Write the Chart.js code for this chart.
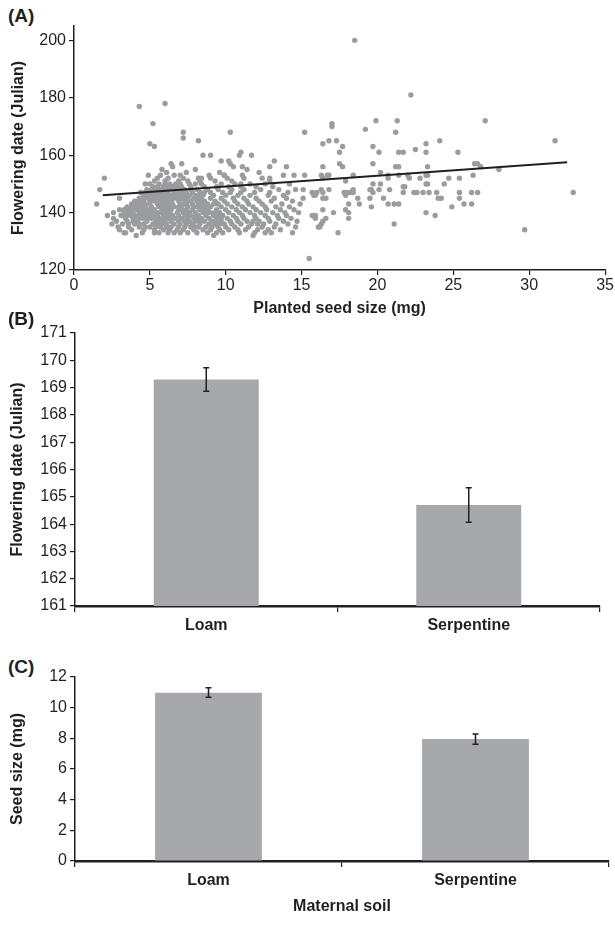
<!DOCTYPE html>
<html>
<head>
<title>Seed size and flowering date</title>
<script src="https://cdn.jsdelivr.net/npm/chart.js"></script>
<style>
body { margin: 0; background: #fff; }
#page { position: relative; width: 615px; height: 932px; font-family: "Liberation Sans", Arial, sans-serif; }
canvas { position: absolute; left: 0; }
.tag { position: absolute; left: 8px; font-weight: bold; font-size: 19px; color: #231f20; line-height: 20px; }
</style>
</head>
<body>
<div id="page">
  <div class="tag" style="top:6px">(A)</div>
  <canvas id="chartA" width="615" height="318" style="top:0"></canvas>
  <div class="tag" style="top:309px">(B)</div>
  <canvas id="chartB" width="615" height="325" style="top:315px"></canvas>
  <div class="tag" style="top:657px">(C)</div>
  <canvas id="chartC" width="615" height="292" style="top:640px"></canvas>
</div>
<script>
// (A) planted seed size (mg) vs flowering date (Julian day)
// dense part of the cloud, one row per flowering day: seed sizes
const rowDays = [132, 133, 134, 135, 136, 137, 138, 139, 140, 141, 142, 143, 144, 145, 146, 147, 148, 149, 150, 151, 152, 153, 154, 155, 156, 157, 158, 160];
const rowSizes = [
  [4.1, 9.2, 11.8],
  [3.3, 3.4, 4.5, 5.3, 5.6, 6.2, 6.6, 7.0, 7.5, 8.1, 8.8, 9.4, 9.8, 10.9, 11.9, 12.6, 13.0, 14.4],
  [3.0, 3.8, 4.6, 5.3, 5.9, 6.3, 6.8, 7.2, 7.9, 8.5, 9.0, 9.6, 10.2, 10.8, 11.3, 12.1, 12.8, 13.6],
  [2.9, 3.6, 4.3, 4.7, 5.0, 5.4, 5.7, 6.1, 6.4, 6.9, 7.3, 7.7, 8.0, 8.2, 8.7, 9.1, 9.5, 10.0, 10.6, 11.5, 12.4, 13.2, 14.6],
  [2.5, 3.2, 3.6, 4.0, 4.3, 4.6, 5.2, 5.5, 5.8, 6.1, 6.6, 7.0, 7.4, 7.8, 8.3, 8.9, 9.3, 9.6, 9.9, 10.4, 11.0, 11.7, 12.1, 12.5, 13.3, 14.1],
  [2.8, 3.5, 3.9, 4.2, 4.8, 5.4, 5.7, 6.0, 6.4, 6.9, 7.3, 7.6, 8.0, 8.3, 8.6, 9.1, 9.4, 9.7, 10.3, 10.8, 11.4, 11.8, 12.2, 12.9, 13.8, 14.7],
  [2.6, 3.4, 3.9, 4.2, 4.5, 4.8, 5.1, 5.4, 5.6, 5.9, 6.2, 6.5, 6.7, 7.1, 7.5, 7.9, 8.1, 8.4, 8.9, 9.4, 9.7, 10.1, 10.7, 11.2, 12.0, 12.8, 13.5, 14.3],
  [2.2, 3.1, 3.4, 3.7, 4.0, 4.3, 4.6, 4.9, 5.2, 5.5, 5.9, 6.2, 6.5, 6.9, 7.3, 7.5, 7.7, 8.0, 8.2, 8.7, 9.2, 9.5, 9.8, 10.5, 11.1, 11.9, 12.6, 13.4, 14.0],
  [2.6, 3.3, 3.6, 3.9, 4.3, 4.6, 4.9, 5.2, 5.5, 5.7, 6.0, 6.3, 6.8, 7.2, 7.4, 7.6, 8.0, 8.5, 8.8, 9.0, 9.3, 9.6, 10.2, 10.9, 11.6, 12.3, 13.1, 13.9, 14.8],
  [3.0, 3.3, 3.6, 3.9, 4.2, 4.5, 4.8, 5.0, 5.3, 5.8, 6.1, 6.4, 6.9, 7.1, 7.4, 7.8, 8.3, 8.6, 8.8, 9.4, 10.0, 10.7, 11.3, 12.0, 12.7, 13.6, 14.5],
  [3.5, 3.8, 4.1, 4.4, 4.7, 5.1, 5.6, 5.8, 6.1, 6.3, 6.6, 6.9, 7.1, 7.5, 7.9, 8.1, 8.4, 8.7, 9.0, 9.7, 10.4, 11.1, 11.8, 12.6, 13.3, 14.2],
  [1.5, 3.8, 4.1, 4.4, 4.7, 5.0, 5.5, 5.8, 6.0, 6.3, 6.5, 7.0, 7.2, 7.4, 7.8, 8.2, 8.5, 8.8, 9.2, 9.5, 10.1, 10.8, 11.5, 12.4, 13.7, 14.9],
  [4.0, 4.3, 4.6, 5.0, 5.3, 5.6, 5.9, 6.1, 6.4, 6.9, 7.3, 7.5, 7.7, 8.1, 8.4, 8.6, 9.3, 9.9, 10.6, 11.4, 12.2, 13.0, 14.4],
  [3.0, 4.3, 4.6, 4.9, 5.2, 5.5, 5.8, 6.1, 6.4, 6.6, 6.9, 7.1, 7.3, 7.5, 7.9, 8.2, 8.4, 9.0, 9.7, 10.5, 11.2, 12.0, 13.2, 14.0],
  [4.6, 4.9, 5.2, 5.5, 5.8, 6.1, 6.3, 6.5, 6.8, 7.0, 7.2, 7.4, 7.6, 8.0, 8.2, 8.5, 9.2, 10.0, 10.8, 11.6, 12.8, 13.8],
  [4.4, 4.7, 5.0, 5.3, 5.6, 5.9, 6.2, 6.6, 6.9, 7.1, 7.4, 7.8, 8.3, 8.6, 9.0, 9.8, 10.3, 11.0, 11.9, 12.9, 14.1],
  [1.7, 4.8, 5.1, 5.4, 5.7, 6.0, 6.3, 6.7, 7.0, 7.3, 7.7, 8.1, 8.8, 9.5, 10.4, 11.2, 12.3, 13.5, 14.6],
  [5.2, 5.5, 5.9, 6.2, 6.5, 6.8, 7.1, 7.7, 8.6, 9.4, 10.2, 11.0, 12.0, 13.1],
  [4.7, 5.0, 5.6, 6.0, 6.3, 6.7, 7.0, 7.6, 8.0, 8.4, 9.7, 10.6, 11.0, 11.6, 12.6, 14.2],
  [5.3, 6.0, 6.9, 7.5, 8.3, 9.3, 10.4, 12.9],
  [2.0, 5.5, 6.2, 7.2, 8.2, 8.4, 9.0, 10.1, 11.2, 12.4, 12.9],
  [4.9, 5.7, 6.6, 7.0, 8.9, 9.9, 11.1, 13.8, 14.5],
  [6.1, 7.4, 9.6, 12.2],
  [5.8, 8.0, 11.4],
  [6.5, 10.5, 11.1, 12.9, 14.0],
  [6.4, 7.1, 10.3],
  [9.7, 10.2, 13.2],
  [8.5, 9.0, 10.9, 11.7]
];
// sparse points: outliers and the larger seeds
const sparsePoints = [
  [4.3, 177], [6.0, 178], [5.2, 171], [5.0, 164], [5.3, 163], [7.2, 168], [7.2, 166], [8.2, 165], [9.9, 153], [10.3, 168], [11.0, 161],
  [15.2, 168], [15.1, 148], [15.1, 145], [15.2, 153], [15.5, 124], [15.7, 147], [15.8, 146], [15.9, 146], [16.0, 147],
  [15.9, 138], [15.9, 139], [15.7, 139], [16.1, 135], [16.2, 135], [16.3, 136], [16.4, 137], [16.6, 138], [16.3, 148],
  [16.4, 147], [16.3, 153], [16.4, 152], [16.4, 156], [16.4, 164], [16.4, 141], [16.6, 145], [16.4, 145], [16.8, 148],
  [16.8, 153], [16.7, 153], [16.8, 165], [17.0, 170], [17.0, 171], [17.1, 140], [17.4, 133], [17.3, 165], [17.5, 157],
  [17.7, 156], [17.5, 161], [17.7, 163], [17.8, 147], [17.9, 151], [17.9, 146], [18.0, 147], [18.2, 147], [18.4, 147],
  [18.4, 148], [17.9, 141], [18.1, 143], [18.1, 140], [18.1, 138], [18.4, 153], [18.7, 145], [18.8, 143], [19.2, 169],
  [19.6, 142], [19.5, 145], [19.7, 147], [19.6, 148], [19.5, 148], [19.7, 150], [19.7, 157], [19.7, 163], [19.9, 172],
  [20.1, 161], [20.1, 148], [20.2, 150], [20.2, 154], [20.4, 145], [20.7, 143], [20.7, 152], [20.7, 153], [20.8, 148],
  [21.1, 136], [21.1, 143], [21.4, 143], [21.2, 168], [21.3, 172], [21.2, 156], [21.4, 156], [21.4, 153], [21.4, 161],
  [21.7, 161], [21.7, 147], [21.7, 149], [21.8, 149], [22.0, 153], [22.1, 152], [22.5, 162], [22.4, 147], [22.6, 147],
  [22.8, 152], [23.0, 147], [23.2, 140], [23.2, 164], [23.2, 161], [23.2, 153], [23.3, 153], [23.2, 150], [23.3, 150],
  [23.3, 156], [23.4, 147], [23.8, 139], [23.9, 147], [24.0, 145], [24.2, 145], [24.1, 165], [24.4, 150], [24.7, 152],
  [24.9, 142], [25.3, 161], [25.4, 152], [25.4, 145], [25.4, 147], [25.7, 143], [26.2, 143], [26.2, 147], [26.6, 147],
  [26.3, 153], [26.4, 157], [26.6, 157], [26.8, 156], [27.1, 172], [28.0, 155], [29.7, 134], [31.7, 165], [32.9, 147],
  [18.5, 200], [22.2, 181]
];
const trendLine = [[1.9, 146.0], [32.5, 157.5]];
const xTicksA = [0, 5, 10, 15, 20, 25, 30, 35];
const yTicksA = [120, 140, 160, 180, 200];

// (B) and (C) means with error bars, by maternal soil
const soils = ['Loam', 'Serpentine'];
const flowerMean = [169.3, 164.7];
const flowerLow = [168.87, 164.07];
const flowerHigh = [169.73, 165.33];
const seedMean = [10.98, 7.96];
const seedLow = [10.68, 7.62];
const seedHigh = [11.30, 8.28];

const ink = '#231f20';
const dotGrey = '#9b9c9f';
const barGrey = '#a7a8ab';
const tickFont = { family: '"Liberation Sans", Arial, sans-serif', size: 16 };
const boldFont = { family: '"Liberation Sans", Arial, sans-serif', size: 16, weight: 'bold' };

const scatterData = [];
rowDays.forEach((d, i) => rowSizes[i].forEach(s => scatterData.push({ x: s, y: d })));
sparsePoints.forEach(p => scatterData.push({ x: p[0], y: p[1] }));

function axisGrid() {
  return { drawOnChartArea: false, drawTicks: true, tickLength: 5, color: ink, lineWidth: 1.2 };
}

new Chart(document.getElementById('chartA'), {
  type: 'scatter',
  data: {
    datasets: [
      { data: scatterData, backgroundColor: dotGrey, borderWidth: 0, pointRadius: 2.7, order: 2 },
      { type: 'line', data: trendLine.map(p => ({ x: p[0], y: p[1] })), borderColor: ink, borderWidth: 2, pointRadius: 0, order: 1 }
    ]
  },
  options: {
    responsive: false, animation: false, devicePixelRatio: 1,
    layout: { padding: { top: 26, right: 9, left: 0, bottom: 0 } },
    plugins: { legend: { display: false }, tooltip: { enabled: false } },
    scales: {
      x: {
        type: 'linear', min: 0, max: 35,
        afterBuildTicks: s => { s.ticks = xTicksA.map(v => ({ value: v })); },
        ticks: { color: ink, font: tickFont, padding: 1, maxRotation: 0 },
        grid: axisGrid(),
        border: { color: ink, width: 1.5 },
        title: { display: true, text: 'Planted seed size (mg)', color: ink, font: boldFont, padding: { top: 0, bottom: 0 } },
        afterFit: s => { s.height = 48; }
      },
      y: {
        min: 120, max: 205,
        afterBuildTicks: s => { s.ticks = yTicksA.map(v => ({ value: v })); },
        ticks: { color: ink, font: tickFont, padding: 3 },
        grid: axisGrid(),
        border: { color: ink, width: 1.5 },
        title: { display: true, text: 'Flowering date (Julian)', color: ink, font: boldFont, padding: { top: 9, bottom: 0 } },
        afterFit: s => { s.width = 74; }
      }
    }
  }
});

// draws the mean +/- error bars on top of the bars, through the chart's own scales
function errorBars(low, high) {
  return {
    id: 'errorBars',
    afterDatasetsDraw(chart) {
      const ctx = chart.ctx;
      const y = chart.scales.y;
      const meta = chart.getDatasetMeta(0);
      ctx.save();
      ctx.strokeStyle = ink;
      ctx.lineWidth = 1.5;
      meta.data.forEach((bar, i) => {
        const top = y.getPixelForValue(high[i]);
        const bot = y.getPixelForValue(low[i]);
        ctx.beginPath();
        ctx.moveTo(bar.x, top); ctx.lineTo(bar.x, bot);
        ctx.moveTo(bar.x - 3, top); ctx.lineTo(bar.x + 3, top);
        ctx.moveTo(bar.x - 3, bot); ctx.lineTo(bar.x + 3, bot);
        ctx.stroke();
      });
      ctx.restore();
    }
  };
}

function barChart(id, means, low, high, yMin, yMax, yStep, yTitle, xTitle, pad, xHeight) {
  return new Chart(document.getElementById(id), {
    type: 'bar',
    data: {
      labels: soils,
      datasets: [{ data: means, backgroundColor: barGrey, borderWidth: 0, barPercentage: 0.4, categoryPercentage: 1 }]
    },
    options: {
      responsive: false, animation: false, devicePixelRatio: 1,
      layout: { padding: pad },
      plugins: { legend: { display: false }, tooltip: { enabled: false } },
      scales: {
        x: {
          ticks: { color: ink, font: boldFont, padding: 4 },
          grid: { drawOnChartArea: false, drawTicks: true, tickLength: 6, color: ink, lineWidth: 1.2, offset: true },
          border: { color: ink, width: 2.5 },
          title: { display: !!xTitle, text: xTitle, color: ink, font: boldFont, padding: { top: 0, bottom: 0 } },
          afterFit: s => { s.height = xHeight; }
        },
        y: {
          min: yMin, max: yMax,
          ticks: { stepSize: yStep, color: ink, font: tickFont, padding: 3 },
          grid: { drawOnChartArea: false, drawTicks: true, tickLength: 5, color: ink, lineWidth: 1.2 },
          border: { color: ink, width: 1.5 },
          title: { display: true, text: yTitle, color: ink, font: boldFont, padding: { top: 8, bottom: 0 } },
          afterFit: s => { s.width = 75; }
        }
      }
    },
    plugins: [errorBars(low, high)]
  });
}

barChart('chartB', flowerMean, flowerLow, flowerHigh, 161, 171, 1, 'Flowering date (Julian)', '',
  { top: 18, right: 15, left: 0, bottom: 0 }, 34);
barChart('chartC', seedMean, seedLow, seedHigh, 0, 12, 2, 'Seed size (mg)', 'Maternal soil',
  { top: 37, right: 6, left: 0, bottom: 16 }, 55);
</script>
</body>
</html>
